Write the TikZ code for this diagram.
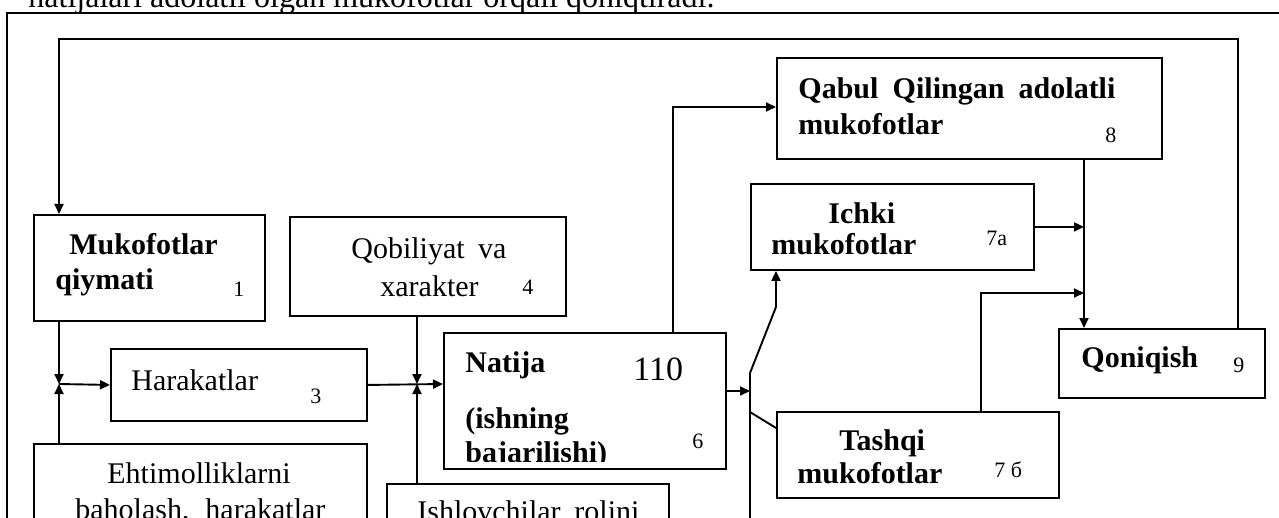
\documentclass[tikz,border=0pt]{standalone}
\usepackage{fontspec}
\setmainfont{Liberation Serif}
\usetikzlibrary{arrows.meta}
\begin{document}
\begin{tikzpicture}[x=0.5pt,y=-0.5pt,
  box/.style={draw, line width=0.95pt, inner sep=0pt, anchor=north west},
  arr/.style={line width=0.95pt, -{Triangle[length=5pt,width=4.5pt]}},
  ln/.style={line width=0.95pt},
  lbl/.style={anchor=base west, inner sep=0pt, font=\fontsize{15}{18}\selectfont\bfseries},
  txt/.style={anchor=base west, inner sep=0pt, font=\fontsize{15}{18}\selectfont},
  num/.style={anchor=base west, inner sep=0pt, font=\fontsize{11}{13}\selectfont}]
\useasboundingbox (0,0) rectangle (1279,518);
% top text (cut)
\node[txt, font=\fontsize{16}{19}\selectfont] (top) at (28,8) {natijalari adolatli olgan mukofotlar orqali qoniqtiradi.};
% outer frame
\coordinate (fr1) at (7,530);
\coordinate (fr2) at (7,13);
\coordinate (fr3) at (1290,13);
\draw[ln] (fr1) -- (fr2) -- (fr3);
% boxes
\node[box, minimum width=115.5pt, minimum height=53pt] (mk) at (33,214) {};
\node[box, minimum width=138pt, minimum height=49.5pt] (qb) at (289,216) {};
\node[box, minimum width=128pt, minimum height=36pt] (hk) at (110,348) {};
\node[box, minimum width=166.5pt, minimum height=50pt] (eh) at (33,443) {};
\node[box, minimum width=141pt, minimum height=68pt] (nt) at (443,332) {};
\node[box, minimum width=141pt, minimum height=38.5pt] (il) at (386,483) {};
\node[box, minimum width=141.5pt, minimum height=43pt] (ic) at (750,183) {};
\node[box, minimum width=192.5pt, minimum height=50.5pt] (qa) at (776,57) {};
\node[box, minimum width=141pt, minimum height=43pt] (ts) at (776,411) {};
\node[box, minimum width=103pt, minimum height=34.5pt] (qn) at (1058,328) {};
% texts
\node[lbl] (t1a) at (69,255) {Mukofotlar};
\node[lbl] (t1b) at (55,290) {qiymati};
\node[num] (n1) at (233,296) {1};
\node[txt] (t4a) at (351,258) {\makebox[77.5pt][s]{Qobiliyat\hfill va}};
\node[txt] (t4b) at (380,297) {xarakter};
\node[num] (n4) at (522,294) {4};
\node[txt] (t3) at (131,390) {Harakatlar};
\node[num] (n3) at (310,403) {3};
\node[txt] (t5a) at (107,483) {Ehtimolliklarni};
\node[txt] (t5b) at (75,519) {\makebox[125pt][s]{baholash,\hfill harakatlar}};
\node[lbl] (t6a) at (465,372) {Natija};
\node[txt, font=\fontsize{17}{20}\selectfont] (n110) at (633,380) {110};
\node[lbl] (t6b) at (465,428) {(ishning};
\begin{scope}
\clip (nt.north west) rectangle (725,461);
\node[lbl] (t6c) at (465,462) {bajarilishi)};
\end{scope}
\node[num] (n6) at (692,448) {6};
\node[txt] (t2) at (417,521) {\makebox[111pt][s]{Ishlovchilar\hfill rolini}};
\node[lbl] (t7a) at (828,224) {Ichki};
\node[lbl] (t7b) at (771,255) {mukofotlar};
\node[num] (n7a) at (986,246) {7а};
\node[lbl] (t8a) at (798,99) {\makebox[158.5pt][s]{Qabul\hfill Qilingan\hfill adolatli}};
\node[lbl] (t8b) at (798,135) {mukofotlar};
\node[num] (n8) at (1105,143) {8};
\node[lbl] (t7c) at (839,450) {Tashqi};
\node[lbl] (t7d) at (797,483) {mukofotlar};
\node[num] (n7b) at (994,477) {7 б};
\node[lbl] (t9) at (1081,367) {Qoniqish};
\node[num] (n9) at (1233,372) {9};
% connectors
\coordinate (fbR) at (1238,39);
\coordinate (fbL) at (59,39);
\draw[arr] (qn.north -| fbR) -- (fbR) -- (fbL) -- (fbL |- mk.north);
\coordinate (J1) at (59,384);
\draw[arr] (fbL |- mk.south) -- (J1);
\draw[arr] (fbL |- eh.north) -- (J1);
\draw[arr] (J1) -- (hk.west);
\coordinate (J2) at (417,384);
\draw[arr] (hk.east) -- (nt.west |- J2);
\draw[arr] (J2 |- qb.south) -- (J2);
\draw[arr] (J2 |- il.north) -- (J2);
\coordinate (S) at (750,391);
\draw[arr] (nt.east |- S) -- (S);
\coordinate (Sa) at (750,373);
\coordinate (Sb) at (750,530);
\coordinate (Sc) at (776,307);
\coordinate (Sd) at (750,412);
\coordinate (Se) at (776,428);
\draw[ln] (Sa) -- (Sb);
\draw[arr] (Sa) -- (Sc) -- (Sc |- ic.south);
\draw[ln] (Sd) -- (Se);
\coordinate (T1) at (673,107);
\draw[arr] (T1 |- nt.north) -- (T1) -- (qa.west |- T1);
\coordinate (V) at (1084,158);
\draw[arr] (V |- qa.south) -- (V |- qn.north);
\draw[arr] (ic.east) -- (V |- ic.east);
\coordinate (W) at (981,293);
\draw[arr] (W |- ts.north) -- (W) -- (V |- W);
\end{tikzpicture}
\end{document}
